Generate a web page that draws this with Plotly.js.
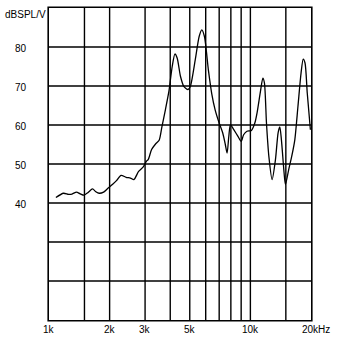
<!DOCTYPE html>
<html>
<head>
<meta charset="utf-8">
<script src="https://cdn.plot.ly/plotly-3.0.1.min.js"></script>
<style>
html,body{margin:0;padding:0;background:#fff;}
#chart{width:341px;height:344px;}
#chart .gridlayer path, #chart path.xlines-above, #chart path.ylines-above{shape-rendering:auto !important;}
</style>
</head>
<body>
<div id="chart"></div>
<script>
// Frequency response data (Hz, dBSPL/V)
var freqHz = [1082,1180,1251,1302,1370,1424,1493,1564,1645,1708,1775,1867,1955,2071,2169,2280,2415,2538,2640,2786,2931,3046,3108,3232,3389,3524,3638,3784,3938,4091,4218,4329,4495,4671,4903,5033,5323,5567,5738,5914,6190,6430,6683,7000,7285,7509,7661,7815,7964,8272,8677,9000,9256,9621,10120,10520,10800,11210,11530,11740,12020,12350,12820,13320,13730,14000,14260,14660,14930,15490,16050,16620,17230,17850,18290,18680,19160,19860];
var splDb = [41.4,42.5,42.2,42.3,42.8,42.4,42.0,42.7,43.6,42.9,42.5,42.8,43.7,44.8,45.8,47.1,46.6,46.4,46.0,48.1,49.2,50.7,51.1,53.7,55.2,56.1,59.6,63.9,68.6,75.0,78.2,77.2,72.5,69.9,69.1,69.9,76.7,82.7,84.4,82.7,74.0,68.0,63.9,60.5,58.0,55.0,52.8,57.1,60.1,58.8,57.1,55.8,57.5,58.4,58.6,60.5,63.2,68.5,72.0,70.8,60.5,52.0,46.0,51.1,58.0,59.5,56.2,48.5,44.7,48.5,52.0,56.2,64.8,73.3,76.9,75.9,68.2,58.8];

// Axis grid / labels
var xGridVals = [1000,1500,2000,3000,4000,5000,6000,7000,8000,9000,10000,15000,20000];
var xLabelVals = [1000,2000,3000,5000,10000,20000];
var xLabelText = ['1k','2k','3k','5k','10k','20kHz'];
var yGridVals = [10,20,30,40,50,60,70,80,90];
var yLabelVals = [40,50,60,70,80];
var yLabelText = ['40','50','60','70','80'];
var yUnitText = 'dBSPL/V';

var fontSpec = {family: 'Liberation Sans, Arial, sans-serif', size: 10, color: '#000'};
var annotations = [];
xLabelVals.forEach(function (v, i) {
  var last = (i === xLabelVals.length - 1);
  annotations.push({
    x: Math.log10(v), xref: 'x', y: 0, yref: 'paper',
    text: xLabelText[i], showarrow: false, font: fontSpec,
    xanchor: last ? 'left' : 'center', xshift: last ? -11 : 0,
    yanchor: 'middle', yshift: -9
  });
});
yLabelVals.forEach(function (v, i) {
  annotations.push({
    x: 0, xref: 'paper', y: v, yref: 'y',
    text: yLabelText[i], showarrow: false, font: fontSpec,
    xanchor: 'center', xshift: -28, yanchor: 'middle', yshift: -1
  });
});
annotations.push({
  x: 0, xref: 'paper', y: 1, yref: 'paper', text: yUnitText,
  showarrow: false, font: fontSpec, xanchor: 'center', xshift: -24,
  yanchor: 'middle', yshift: -6
});

var trace = {
  x: freqHz, y: splDb, type: 'scatter', mode: 'lines',
  line: {color: '#000', width: 1.3, shape: 'spline', smoothing: 0.7},
  hoverinfo: 'skip'
};

var layout = {
  width: 341, height: 344,
  margin: {l: 49, r: 30, t: 8, b: 24, pad: 0},
  paper_bgcolor: '#fff', plot_bgcolor: '#fff',
  showlegend: false,
  xaxis: {
    type: 'log', range: [Math.log10(1000), Math.log10(20000)],
    tickmode: 'array', tickvals: xGridVals, showticklabels: false, ticks: '',
    showgrid: true, gridcolor: '#000', gridwidth: 1.4,
    showline: true, linecolor: '#000', linewidth: 1.6, mirror: true,
    zeroline: false, fixedrange: true
  },
  yaxis: {
    range: [10, 90],
    tickmode: 'array', tickvals: yGridVals, showticklabels: false, ticks: '',
    showgrid: true, gridcolor: '#000', gridwidth: 1.4,
    showline: true, linecolor: '#000', linewidth: 1.6, mirror: true,
    zeroline: false, fixedrange: true
  },
  annotations: annotations
};

Plotly.newPlot('chart', [trace], layout, {staticPlot: true, displayModeBar: false});
</script>
</body>
</html>
